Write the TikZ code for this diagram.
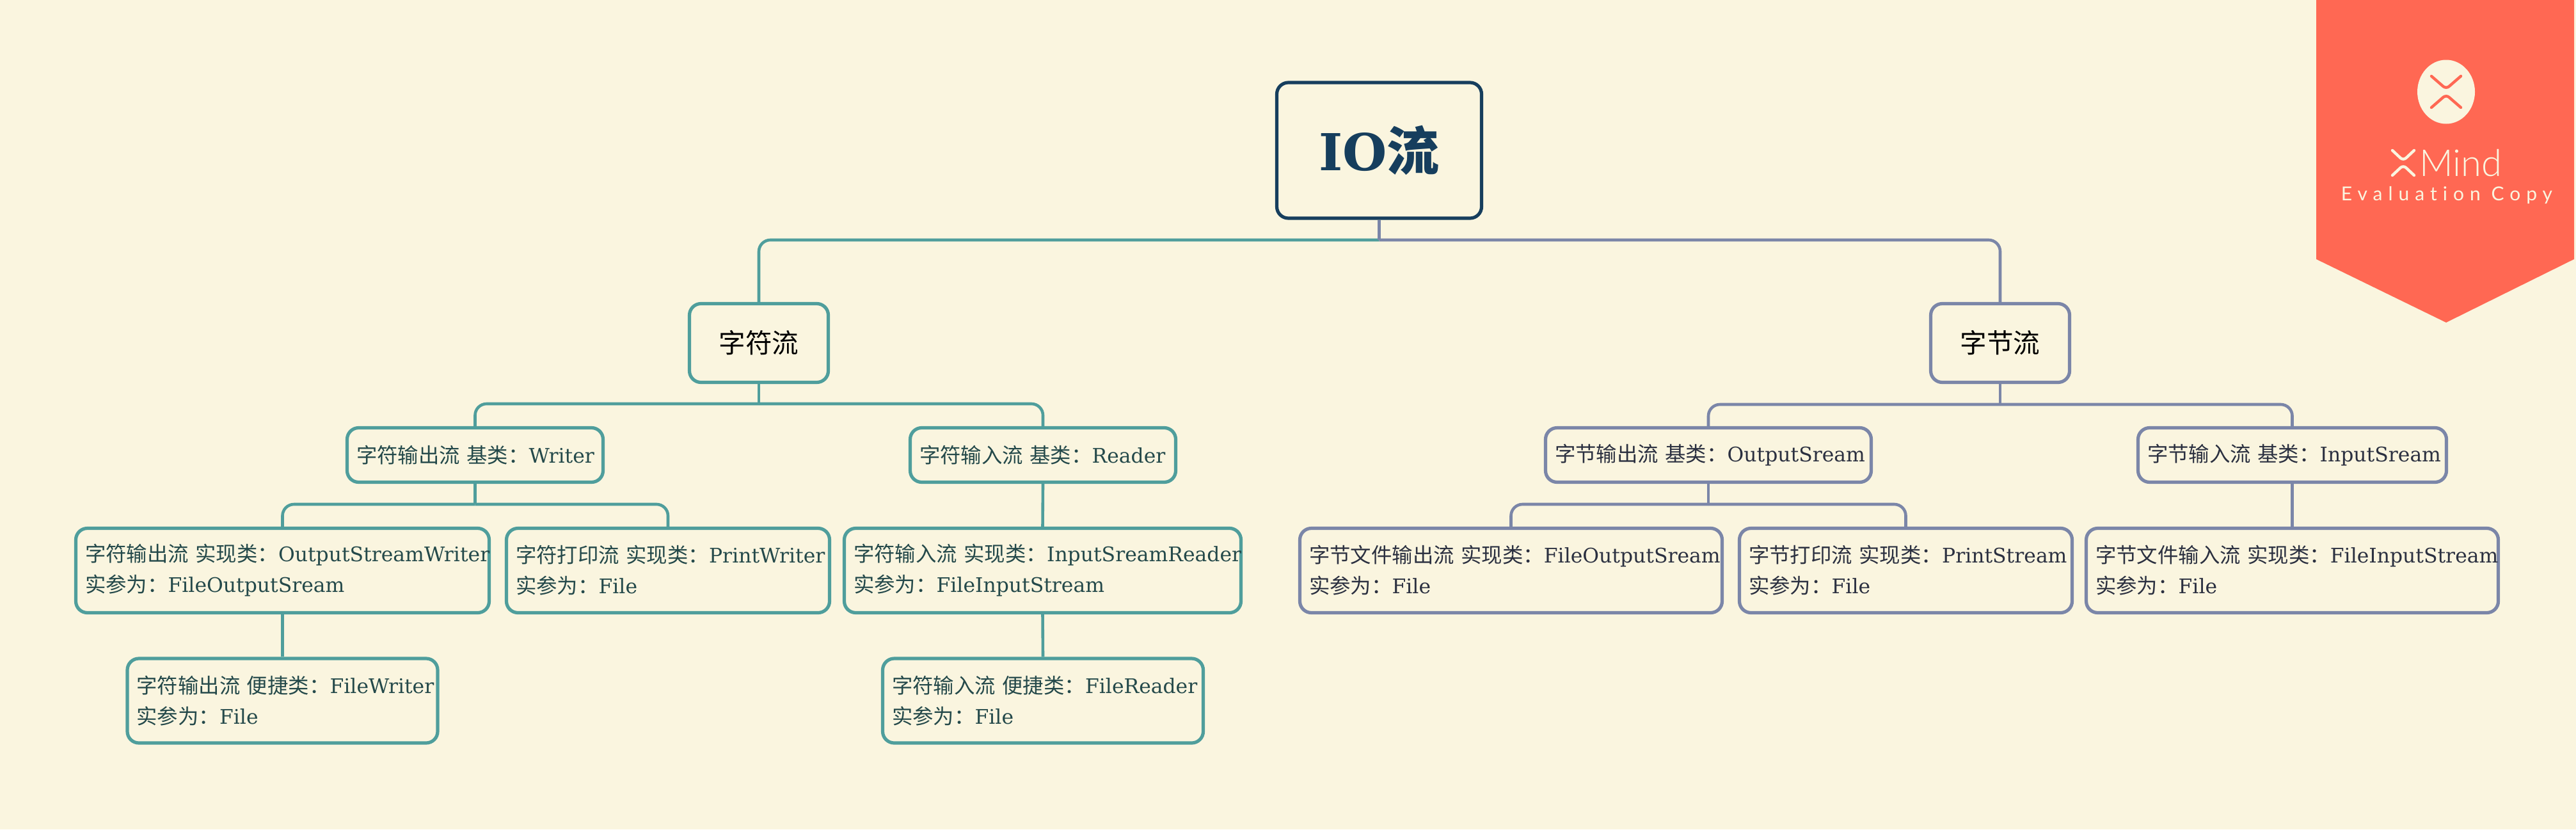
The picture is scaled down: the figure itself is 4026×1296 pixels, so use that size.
\documentclass[tikz,border=0pt]{standalone}
\usepackage{fontspec}
\usepackage{xcolor}
\setmainfont{DejaVu Serif}[Scale=0.97]
\newfontfamily\cjk{Noto Sans CJK SC}
\newfontfamily\logofont{Lato Light}
\newfontfamily\copyfont{Lato}[Ligatures=NoCommon,LetterSpace=30]
\usetikzlibrary{positioning}
\definecolor{bgcream}{HTML}{FAF5DF}
\definecolor{tealline}{HTML}{4F9E9C}
\definecolor{tealtext}{HTML}{24494A}
\definecolor{blueline}{HTML}{7B86A8}
\definecolor{bluetext}{HTML}{2B3040}
\definecolor{rootblue}{HTML}{163E5D}
\definecolor{bannerred}{HTML}{FF6853}
\newcommand{\zh}[1]{{\cjk #1}}
\tikzset{
  box/.style={draw,rectangle,rounded corners=9pt,line width=2.6pt,fill=bgcream,inner ysep=0pt},
  branch/.style={box,minimum width=108.5pt,minimum height=61.5pt,inner xsep=0pt,text=black,font=\fontsize{20.8}{26}\selectfont},
  stream/.style={box,inner xsep=7.25pt,align=left,text width=#1,font=\fontsize{16.2}{24}\selectfont},
  mid/.style={stream=#1,minimum height=42.5pt},
  leaf/.style={stream=#1,minimum height=66pt},
  teal/.style={draw=tealline,text=tealtext},
  blue/.style={draw=blueline,text=bluetext},
  link/.style={line width=2.3pt,rounded corners=9pt},
  chevron/.style={draw=#1,line width=2.2pt,line cap=round,rounded corners=3pt}
}
\begin{document}
\begin{tikzpicture}[x=0.5pt,y=0.5pt]
    \fill[bgcream] (0,0) rectangle (4026,-1296);
    \useasboundingbox (0,0) rectangle (4026,-1296);

    % Root and the two branches
    \node[box,draw=rootblue,text=rootblue,minimum width=160pt,minimum height=106pt,inner xsep=0pt,font=\fontsize{41}{50}\selectfont\bfseries] (root) at (2155.5,-235) {IO\zh{流}};
    \node[branch,draw=tealline] (zifu) at (1186,-536) {\zh{字符流}};
    \node[branch,draw=blueline] (zijie) at (3126,-536) {\zh{字节流}};

    % Base classes
    \node[mid=185.5pt,teal] (writer) at (742.5,-711) {\mbox{\zh{字符输出流 基类：}Writer}};
    \node[mid=193pt,teal] (reader) at (1630,-711) {\mbox{\zh{字符输入流 基类：}Reader}};
    \node[mid=240pt,blue] (ostream) at (2670,-711) {\mbox{\zh{字节输出流 基类：}OutputSream}};
    \node[mid=226.5pt,blue] (istream) at (3582.5,-711) {\mbox{\zh{字节输入流 基类：}InputSream}};

    % Implementation classes
    \node[leaf=308.5pt,teal] (osw) at (441.5,-891.5) {\mbox{\zh{字符输出流 实现类：}OutputStreamWriter}\\\mbox{\zh{实参为：}FileOutputSream}};
    \node[leaf=238pt,teal] (pw) at (1044,-891.5) {\mbox{\zh{字符打印流 实现类：}PrintWriter}\\\mbox{\zh{实参为：}File}};
    \node[leaf=295.5pt,teal] (isr) at (1629.5,-891.5) {\mbox{\zh{字符输入流 实现类：}InputSreamReader}\\\mbox{\zh{实参为：}FileInputStream}};
    \node[leaf=315.5pt,blue] (fos) at (2361.5,-891.5) {\mbox{\zh{字节文件输出流 实现类：}FileOutputSream}\\\mbox{\zh{实参为：}File}};
    \node[leaf=245.5pt,blue] (ps) at (2978.5,-891.5) {\mbox{\zh{字节打印流 实现类：}PrintStream}\\\mbox{\zh{实参为：}File}};
    \node[leaf=307.5pt,blue] (fis) at (3582.5,-891.5) {\mbox{\zh{字节文件输入流 实现类：}FileInputStream}\\\mbox{\zh{实参为：}File}};

    % Convenience classes
    \node[leaf=228pt,teal] (fw) at (441.5,-1095) {\mbox{\zh{字符输出流 便捷类：}FileWriter}\\\mbox{\zh{实参为：}File}};
    \node[leaf=236pt,teal] (fr) at (1630,-1095) {\mbox{\zh{字符输入流 便捷类：}FileReader}\\\mbox{\zh{实参为：}File}};

    % Bus points
    \coordinate (rootbus) at (2155.5,-375);
    \coordinate (zifubus) at (1186,-631);
    \coordinate (zijiebus) at (3126,-632);
    \coordinate (writerbus) at (742.5,-788);
    \coordinate (ostreambus) at (2670,-788);

    % Connectors
    \draw[link,tealline] (rootbus) -| (zifu.north);
    \draw[link,blueline] (rootbus) -| (zijie.north);
    \draw[link,blueline] (root.south) -- (rootbus);

    \draw[link,tealline] (zifu.south) -- (zifubus);
    \draw[link,tealline] (zifubus) -| (writer.north);
    \draw[link,tealline] (zifubus) -| (reader.north);
    \draw[link,blueline] (zijie.south) -- (zijiebus);
    \draw[link,blueline] (zijiebus) -| (ostream.north);
    \draw[link,blueline] (zijiebus) -| (istream.north);

    \draw[link,tealline] (writer.south) -- (writerbus);
    \draw[link,tealline] (writerbus) -| (osw.north);
    \draw[link,tealline] (writerbus) -| (pw.north);
    \draw[link,tealline] (reader.south) -- (isr.north);
    \draw[link,blueline] (ostream.south) -- (ostreambus);
    \draw[link,blueline] (ostreambus) -| (fos.north);
    \draw[link,blueline] (ostreambus) -| (ps.north);
    \draw[link,blueline] (istream.south) -- (fis.north);
    \draw[link,tealline] (osw.south) -- (fw.north);
    \draw[link,tealline] (isr.south) -- (fr.north);

    % Ribbon in the corner
    \fill[bannerred] (3620,0) -- (4023,0) -- (4023,-405) -- (3823,-504) -- (3620,-405) -- cycle;
    \fill[bgcream] (3823,-143.5) ellipse (45 and 50);
    \draw[chevron=bannerred] (3800,-119) -- (3823,-139) -- (3846,-119);
    \draw[chevron=bannerred] (3800,-168) -- (3823,-148) -- (3846,-168);
    \draw[chevron=bgcream] (3739,-235) -- (3756,-251) -- (3773,-235);
    \draw[chevron=bgcream] (3739,-274) -- (3756,-258) -- (3773,-274);
    \node[anchor=base west,inner sep=0pt,text=bgcream,font=\logofont\fontsize{29}{30}\selectfont] (mind) at (3781,-275) {Mind};
    \node[anchor=base,inner sep=0pt,text=bgcream,font=\copyfont\fontsize{15}{18}\selectfont] (copy) at (3824,-313) {Evaluation Copy};
\end{tikzpicture}
\end{document}
